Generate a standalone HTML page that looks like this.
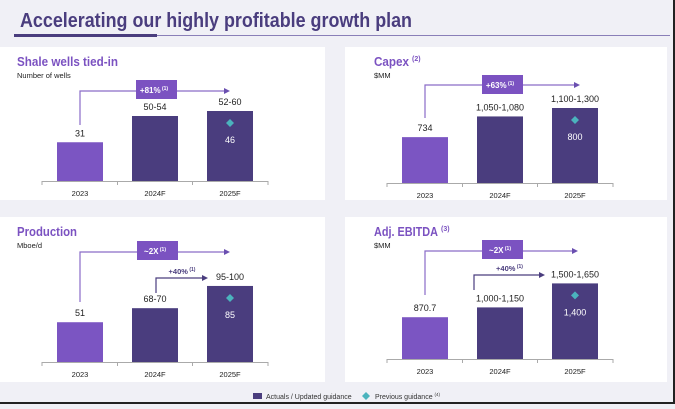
<!DOCTYPE html>
<html><head><meta charset="utf-8"><style>
body{margin:0;width:675px;height:404px;overflow:hidden;background:#f0f0f6;font-family:"Liberation Sans",sans-serif}
</style></head><body>
<svg id="c" width="675" height="404" xmlns="http://www.w3.org/2000/svg">
<rect x="0" y="0" width="675" height="404" fill="#f0f0f6"/>
<text x="20" y="27" font-size="20" font-weight="bold" fill="#4a3d7e" textLength="392" lengthAdjust="spacingAndGlyphs">Accelerating our highly profitable growth plan</text>
<line x1="157" y1="35.5" x2="670" y2="35.5" stroke="#8a7fb8" stroke-width="1"/>
<rect x="14" y="34" width="143" height="3" fill="#4a3d7e"/>
<line x1="0" y1="403" x2="675" y2="403" stroke="#222" stroke-width="2"/>
<line x1="674" y1="0" x2="674" y2="404" stroke="#222" stroke-width="2"/>
<g>
<rect x="253" y="393" width="9" height="6" fill="#4a3d7e"/>
<text x="266" y="399" font-size="7" fill="#333">Actuals / Updated guidance</text>
<path d="M366 392 L370 396 L366 400 L362 396Z" fill="#4bb3bd"/>
<text x="375" y="399" font-size="7" fill="#333">Previous guidance <tspan font-size="4.5" dy="-3">(4)</tspan></text>
</g>
</svg>
<script>
const categories=["2023","2024F","2025F"];
const shaleValues=[31,52,56];
const shaleLabels=["31","50-54","52-60"];
const shalePrev=46;
const capexValues=[734,1065,1200];
const capexLabels=["734","1,050-1,080","1,100-1,300"];
const capexPrev=800;
const prodValues=[51,69,97.5];
const prodLabels=["51","68-70","95-100"];
const prodPrev=85;
const ebitdaValues=[870.7,1075,1575];
const ebitdaLabels=["870.7","1,000-1,150","1,500-1,650"];
const ebitdaPrevLabel="1,400";

const svg=document.getElementById('c');
const NS='http://www.w3.org/2000/svg';
function mk(tag,attrs,parent){const e=document.createElementNS(NS,tag);for(const k in attrs)e.setAttribute(k,attrs[k]);(parent||svg).appendChild(e);return e;}
function txt(x,y,s,size,fill,anchor,weight,parent){const t=mk('text',{x:x,y:y,'font-size':size,fill:fill,'text-anchor':anchor||'start','font-weight':weight||'normal'},parent);t.textContent=s;return t;}

const panels=[
 {name:'shale-wells',px:0,py:47,pw:325,ph:153,tx:17,x0:80,base:181,scale:1.25,vals:shaleValues,labels:shaleLabels,prev:String(shalePrev),title:'Shale wells tied-in',tl:101,sup:'',sub:'Number of wells',box:'+81%',boxX:136,boxY:80,arrowY:91,arrowStart:125,arrowEnd:230},
 {name:'capex',px:345,py:47,pw:322,ph:153,tx:374,x0:425,base:183,scale:0.0625,vals:capexValues,labels:capexLabels,prev:String(capexPrev),title:'Capex',tl:35,sup:'(2)',sub:'$MM',box:'+63%',boxX:482,boxY:75,arrowY:85,arrowStart:118,arrowEnd:580},
 {name:'production',px:0,py:217,pw:325,ph:165,tx:17,x0:80,base:362,scale:0.78,vals:prodValues,labels:prodLabels,prev:String(prodPrev),title:'Production',tl:60,sup:'',sub:'Mboe/d',box:'~2X',boxX:137,boxY:241,arrowY:252,arrowStart:302,arrowEnd:230,small:{x:156,y1:293,y2:278,x2:208}},
 {name:'adj-ebitda',px:345,py:217,pw:322,ph:165,tx:374,x0:425,base:359,scale:0.048,vals:ebitdaValues,labels:ebitdaLabels,prev:ebitdaPrevLabel,title:'Adj. EBITDA',tl:64,sup:'(3)',sub:'$MM',box:'~2X',boxX:482,boxY:240,arrowY:251,arrowStart:295,arrowEnd:578,small:{x:474,y1:290,y2:275,x2:545}}
];
const light='#7b55c2',dark='#4a3d7e',teal='#4bb3bd',purple='#7b52c1';
panels.forEach(p=>{
 const g=mk('g',{});
 
 
 mk('rect',{x:p.px,y:p.py,width:p.pw,height:p.ph,fill:'#fff'},g);
 const t=txt(p.tx,p.py+19,p.title,12.5,purple,'start','bold',g);
 t.setAttribute('textLength',p.tl);
 t.setAttribute('lengthAdjust','spacingAndGlyphs');
 
 
 if(p.sup){txt(p.tx+p.tl+3,p.py+14,p.sup,7,purple,'start','bold',g);}
 txt(p.tx,p.py+31,p.sub,7.5,'#222','start','normal',g);
 const xs=i=>p.x0+i*75;
 mk('line',{x1:xs(0)-38,y1:p.base+0.5,x2:xs(2)+38,y2:p.base+0.5,stroke:'#aaa','stroke-width':1},g);
 [xs(0)-38,xs(0)+37.5,xs(1)+37.5,xs(2)+38].forEach(x=>mk('line',{x1:x,y1:p.base,x2:x,y2:p.base+4,stroke:'#aaa','stroke-width':1},g));
 p.vals.forEach((v,i)=>{
  const h=v*p.scale;
  const b=mk('rect',{x:xs(i)-23,y:p.base-h,width:46,height:h,fill:i===0?light:dark},g);
  
  
  txt(xs(i),p.base-h-6,p.labels[i],9,'#222','middle','normal',g);
  txt(xs(i),p.base+15,categories[i],7.5,'#222','middle','normal',g);
 });
 const top2=p.base-p.vals[2]*p.scale;
 const dx=xs(2),dy=top2+12;
 const d=mk('path',{d:`M${dx} ${dy-4} L${dx+4} ${dy} L${dx} ${dy+4} L${dx-4} ${dy}Z`,fill:teal},g);
 
 
 txt(dx,dy+20,p.prev,9,'#fff','middle','normal',g);
 mk('path',{d:`M${p.x0} ${p.arrowStart} V${p.arrowY} H${p.arrowEnd-5}`,fill:'none',stroke:'#8a6cc8','stroke-width':1.2},g);
 mk('path',{d:`M${p.arrowEnd} ${p.arrowY} l-6 -3 v6z`,fill:'#6a4fb0'},g);
 const bx=mk('rect',{x:p.boxX,y:p.boxY,width:41,height:19,fill:purple},g);
 
 
 const bt=txt(p.boxX+18,p.boxY+13,p.box,8,'#fff','middle','bold',g);
 const bs=document.createElementNS(NS,'tspan');bs.setAttribute('font-size','5');bs.setAttribute('dy','-3');bs.textContent=' (1)';bt.appendChild(bs);
 if(p.small){const s=p.small;
  mk('path',{d:`M${s.x} ${s.y1} V${s.y2} H${s.x2-5}`,fill:'none',stroke:dark,'stroke-width':1.2},g);
  mk('path',{d:`M${s.x2} ${s.y2} l-6 -3 v6z`,fill:dark},g);
  const st=txt((s.x+s.x2)/2,s.y2-4,'+40%',7.5,dark,'middle','bold',g);
  const ss=document.createElementNS(NS,'tspan');ss.setAttribute('font-size','5');ss.setAttribute('dy','-3');ss.textContent=' (1)';st.appendChild(ss);
 }
});
</script>
</body></html>
